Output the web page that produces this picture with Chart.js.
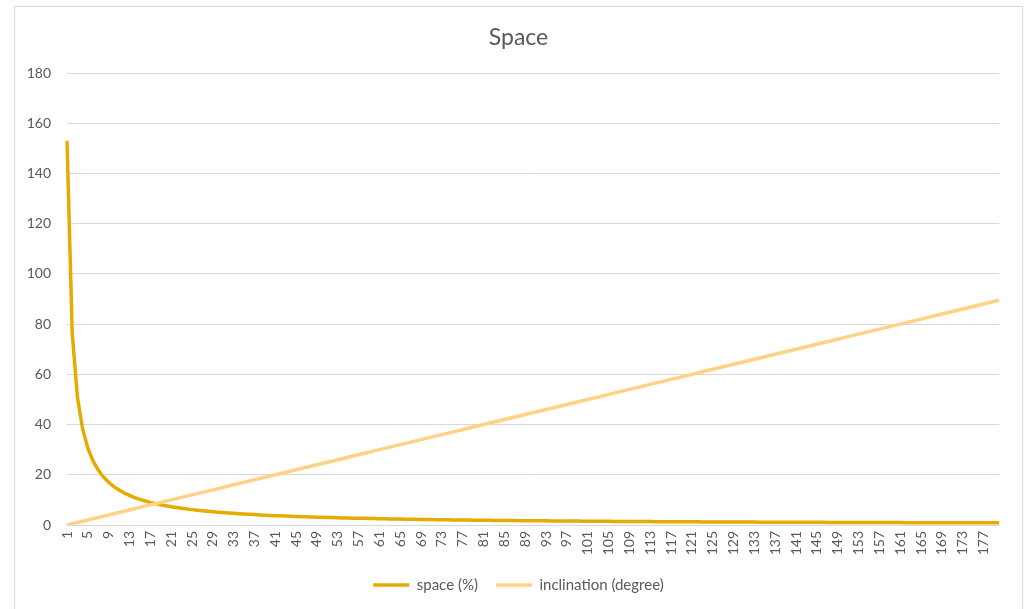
<!DOCTYPE html>
<html>
<head>
<meta charset="utf-8">
<script src="https://cdn.jsdelivr.net/npm/chart.js@4"></script>
<style>
  body { margin: 0; background: #ffffff; }
  #wrap { position: absolute; left: 14px; top: 6px; width: 1007px; height: 620px; border: 1px solid #d9d9d9; }
  #chart { display: block; }
</style>
</head>
<body>
<div id="wrap"><canvas id="chart" width="1007" height="602"></canvas></div>
<script>
// x categories (sample number)
const categories = [
  1,2,3,4,5,6,7,8,9,10,11,12,13,14,15,16,17,18,19,20,
  21,22,23,24,25,26,27,28,29,30,31,32,33,34,35,36,37,38,39,40,
  41,42,43,44,45,46,47,48,49,50,51,52,53,54,55,56,57,58,59,60,
  61,62,63,64,65,66,67,68,69,70,71,72,73,74,75,76,77,78,79,80,
  81,82,83,84,85,86,87,88,89,90,91,92,93,94,95,96,97,98,99,100,
  101,102,103,104,105,106,107,108,109,110,111,112,113,114,115,116,117,118,119,120,
  121,122,123,124,125,126,127,128,129,130,131,132,133,134,135,136,137,138,139,140,
  141,142,143,144,145,146,147,148,149,150,151,152,153,154,155,156,157,158,159,160,
  161,162,163,164,165,166,167,168,169,170,171,172,173,174,175,176,177,178,179,180
];

// space (%)
const spaceValues = [
  153,76.5,51,38.25,30.6,25.5,21.86,19.13,17,15.3,13.91,12.75,11.77,10.93,10.2,9.56,9,8.5,8.05,7.65,
  7.29,6.95,6.65,6.38,6.12,5.88,5.67,5.46,5.28,5.1,4.94,4.78,4.64,4.5,4.37,4.25,4.14,4.03,3.92,3.83,
  3.73,3.64,3.56,3.48,3.4,3.33,3.26,3.19,3.12,3.06,3,2.94,2.89,2.83,2.78,2.73,2.68,2.64,2.59,2.55,
  2.51,2.47,2.43,2.39,2.35,2.32,2.28,2.25,2.22,2.19,2.15,2.13,2.1,2.07,2.04,2.01,1.99,1.96,1.94,1.91,
  1.89,1.87,1.84,1.82,1.8,1.78,1.76,1.74,1.72,1.7,1.68,1.66,1.65,1.63,1.61,1.59,1.58,1.56,1.55,1.53,
  1.51,1.5,1.49,1.47,1.46,1.44,1.43,1.42,1.4,1.39,1.38,1.37,1.35,1.34,1.33,1.32,1.31,1.3,1.29,1.28,
  1.26,1.25,1.24,1.23,1.22,1.21,1.2,1.2,1.19,1.18,1.17,1.16,1.15,1.14,1.13,1.13,1.12,1.11,1.1,1.09,
  1.09,1.08,1.07,1.06,1.06,1.05,1.04,1.03,1.03,1.02,1.01,1.01,1,0.99,0.99,0.98,0.97,0.97,0.96,0.96,
  0.95,0.94,0.94,0.93,0.93,0.92,0.92,0.91,0.91,0.9,0.89,0.89,0.88,0.88,0.87,0.87,0.86,0.86,0.85,0.85
];

// inclination (degree)
const inclinationValues = [
  0,0.5,1,1.5,2,2.5,3,3.5,4,4.5,5,5.5,6,6.5,7,7.5,8,8.5,9,9.5,
  10,10.5,11,11.5,12,12.5,13,13.5,14,14.5,15,15.5,16,16.5,17,17.5,18,18.5,19,19.5,
  20,20.5,21,21.5,22,22.5,23,23.5,24,24.5,25,25.5,26,26.5,27,27.5,28,28.5,29,29.5,
  30,30.5,31,31.5,32,32.5,33,33.5,34,34.5,35,35.5,36,36.5,37,37.5,38,38.5,39,39.5,
  40,40.5,41,41.5,42,42.5,43,43.5,44,44.5,45,45.5,46,46.5,47,47.5,48,48.5,49,49.5,
  50,50.5,51,51.5,52,52.5,53,53.5,54,54.5,55,55.5,56,56.5,57,57.5,58,58.5,59,59.5,
  60,60.5,61,61.5,62,62.5,63,63.5,64,64.5,65,65.5,66,66.5,67,67.5,68,68.5,69,69.5,
  70,70.5,71,71.5,72,72.5,73,73.5,74,74.5,75,75.5,76,76.5,77,77.5,78,78.5,79,79.5,
  80,80.5,81,81.5,82,82.5,83,83.5,84,84.5,85,85.5,86,86.5,87,87.5,88,88.5,89,89.5
];

const yTicks = [0, 20, 40, 60, 80, 100, 120, 140, 160, 180];

const txt = '#595959';
const grid = '#d9d9d9';
const font = 'Lato, "Open Sans", sans-serif';

var ctx = document.getElementById('chart').getContext('2d');

const chart = new Chart(ctx, {
    type: 'line',
    data: {
        labels: categories,
        datasets: [
            {
                label: 'space (%)',
                data: spaceValues,
                borderColor: '#e4ab00',
                backgroundColor: '#e4ab00',
                borderWidth: 3.5,
                pointRadius: 0,
                pointStyle: 'line',
                tension: 0,
                order: 2,
            },
            {
                label: 'inclination (degree)',
                data: inclinationValues,
                borderColor: '#ffd285',
                backgroundColor: '#ffd285',
                borderWidth: 3.5,
                pointRadius: 0,
                pointStyle: 'line',
                tension: 0,
                order: 1,
            }
        ]
    },
    options: {
        responsive: false,
        animation: false,
        layout: {
            padding: { left: 0, right: 0, top: 8, bottom: 6.5 },
        },
        plugins: {
            title: {
                display: true,
                text: 'Space',
                color: txt,
                font: { family: font, size: 23, weight: 'normal' },
                padding: { top: 9.2, bottom: 21.2 },
            },
            legend: {
                position: 'bottom',
                labels: {
                    color: txt,
                    font: { family: font, size: 15 },
                    usePointStyle: true,
                    pointStyleWidth: 36,
                    padding: 18,
                    sort: (a, b) => a.datasetIndex - b.datasetIndex,
                },
            },
            tooltip: { enabled: false },
        },
        scales: {
            x: {
                offset: false,
                grid: { display: false, drawTicks: false },
                border: { display: false },
                ticks: {
                    color: txt,
                    font: { family: font, size: 14 },
                    autoSkip: false,
                    maxRotation: 90,
                    minRotation: 90,
                    padding: 6,
                    callback: function (value, index) {
                        return index % 4 === 0 ? categories[index] : '';
                    },
                },
                afterFit: function (scale) { scale.height = 34.5; },
            },
            y: {
                min: 0,
                max: 180,
                afterBuildTicks: function (scale) {
                    scale.ticks = yTicks.map(v => ({ value: v }));
                },
                grid: { color: grid, lineWidth: 1, drawTicks: false },
                border: { display: false },
                ticks: {
                    color: txt,
                    font: { family: font, size: 14 },
                    padding: 16,
                },
                afterFit: function (scale) { scale.width = 52; },
            },
            // empty right-hand scale: keeps a margin on the right without
            // shifting the title off centre
            yRight: {
                position: 'right',
                min: 0,
                max: 180,
                grid: { display: false, drawTicks: false },
                border: { display: false },
                ticks: { display: false },
                afterFit: function (scale) { scale.width = 19; },
            },
        },
    },
});
</script>
</body>
</html>
